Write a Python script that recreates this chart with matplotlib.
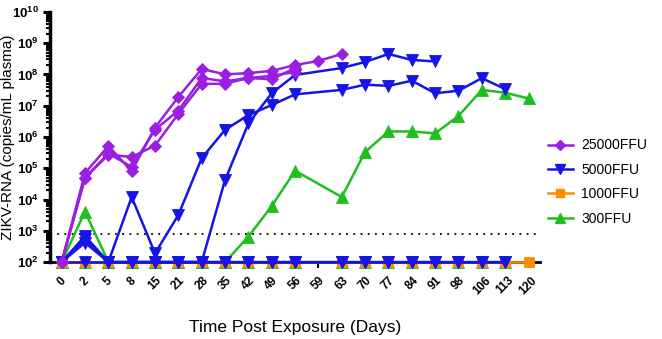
import numpy as np
import matplotlib.pyplot as plt
from matplotlib.ticker import FixedLocator, FuncFormatter, LogLocator, NullFormatter
from matplotlib.lines import Line2D

plt.rcParams['font.family'] = ['Liberation Sans', 'DejaVu Sans']
plt.rcParams['mathtext.fontset'] = 'custom'
plt.rcParams['mathtext.rm'] = 'Liberation Sans'
plt.rcParams['mathtext.bf'] = 'Liberation Sans:bold'

# ---------- data ----------
days = [0, 2, 5, 8, 15, 21, 28, 35, 42, 49, 56, 59, 63, 70, 77, 84, 91, 98, 106, 113, 120]
N = None
lod = 800

# 25000 FFU (one list per animal, None = not sampled)
ffu25000 = [
    [100, 6.9e4, 5.2e5, 8.0e4, 2.0e6, 1.9e7, 1.5e8, 1.0e8, 1.1e8, 1.3e8, 2.0e8, 2.7e8, 4.5e8],
    [100, 4.9e4, 2.7e5, 2.3e5, 5.3e5, 5.5e6, 5.0e7, 5.0e7, 7.7e7, 7.0e7, 1.6e8],
    [100, 4.9e4, 3.0e5, 1.1e5, 1.7e6, 7.0e6, 7.7e7, 6.0e7, 7.7e7, 9.0e7, 1.2e8],
]
# 5000 FFU
ffu5000 = [
    [100, 680, 100, 1.2e4, 190, 3.2e3, 2.1e5, 1.7e6, 5.0e6, 1.05e7, 2.3e7, N, 3.2e7, 4.7e7,
     4.3e7, 6.3e7, 2.5e7, 3.0e7, 7.6e7, 3.4e7],
    [100, 550, 100, 100, 100, 100, 100, 4.2e4, 2.7e6, 2.5e7, 9.6e7, N, 1.6e8, 2.5e8,
     4.5e8, 2.9e8, 2.6e8],
    [100, 420, 100, 100, 100, 100, 100, 100, 100, 100, 100, N, 100, 100,
     100, 100, 100, 100, 100, 100],
    [100, 100, 100, 100, 100, 100, 100, 100, 100, 100, 100, N, 100, 100,
     100, 100, 100, 100, 100, 100],
]
# 1000 FFU
ffu1000 = [
    [100, 100, 100, 100, 100, 100, 100, 100, 100, 100, 100, N, 100, 100,
     100, 100, 100, 100, 100, 100, 100],
]
# 300 FFU
ffu300 = [
    [100, 4.1e3, 100, 100, 100, 100, 100, 100, 650, 6.2e3, 8.3e4, N, 1.2e4, 3.3e5,
     1.5e6, 1.5e6, 1.3e6, 4.7e6, 3.2e7, 2.6e7, 1.7e7],
    [100, 100, 100, 100, 100, 100, 100, 100, 100, 100, 100, N, 100, 100,
     100, 100, 100, 100, 100, 100],
]

groups = [
    ("25000FFU", ffu25000, "#9b1fe0", "D", 6.5, 5),
    ("5000FFU", ffu5000, "#1414e6", "v", 8.5, 4),
    ("1000FFU", ffu1000, "#ff8a00", "s", 7.5, 3),
    ("300FFU", ffu300, "#1fbf1f", "^", 8.5, 2),
]

# ---------- plot ----------
fig = plt.figure(figsize=(6.62, 3.39), dpi=100)
ax = fig.add_axes([0.0755, 0.227, 0.7405, 0.738])

handles = []
for label, animals, color, marker, ms, z in groups:
    for vals in animals:
        xi = [i for i, v in enumerate(vals) if v is not None]
        yv = [v for v in vals if v is not None]
        ax.plot(xi, yv, color=color, marker=marker, markersize=ms, linewidth=1.8,
                markeredgewidth=0.6, markeredgecolor=color, zorder=z, clip_on=False)
    handles.append(Line2D([], [], color=color, marker=marker, markersize=ms - 1.5,
                          linewidth=1.8, label=label))

ax.plot([-0.5, 20.5], [lod, lod], linestyle=(0, (1, 3)), color="black",
        linewidth=1.3, zorder=1)

ax.set_yscale("log")
ax.set_ylim(1e2, 1e10)
ax.set_xlim(-0.5, 20.5)

ax.yaxis.set_major_locator(LogLocator(base=10, numticks=20))
ax.yaxis.set_major_formatter(FuncFormatter(lambda v, p: r"$\mathbf{10^{%d}}$" % round(np.log10(v))))
ax.yaxis.set_minor_locator(LogLocator(base=10, subs=np.arange(2, 10), numticks=20))
ax.yaxis.set_minor_formatter(NullFormatter())
ax.tick_params(axis="y", which="major", length=5, width=2.2, labelsize=9.5, pad=3)
ax.tick_params(axis="y", which="minor", length=3, width=1.5)

ax.xaxis.set_major_locator(FixedLocator(range(len(days))))
ax.set_xticklabels([str(d) for d in days], rotation=45, ha="center",
                   fontweight="bold", fontsize=8.5)
ax.tick_params(axis="x", length=4, width=1.5, pad=5)

for side in ("top", "right"):
    ax.spines[side].set_visible(False)
ax.spines["left"].set_linewidth(2.5)
ax.spines["bottom"].set_linewidth(2.0)

ax.set_xlabel("Time Post Exposure (Days)", fontsize=12.5)
ax.xaxis.set_label_coords(0.5, -0.23)
ax.set_ylabel("ZIKV-RNA (copies/mL plasma)", fontsize=11)
ax.yaxis.set_label_coords(-0.071, 0.5)

leg = ax.legend(handles=handles, loc="center left", bbox_to_anchor=(0.99, 0.32),
                frameon=False, fontsize=10, handlelength=1.8, labelspacing=0.75,
                handletextpad=0.6)

fig.savefig("out.png", dpi=100)
